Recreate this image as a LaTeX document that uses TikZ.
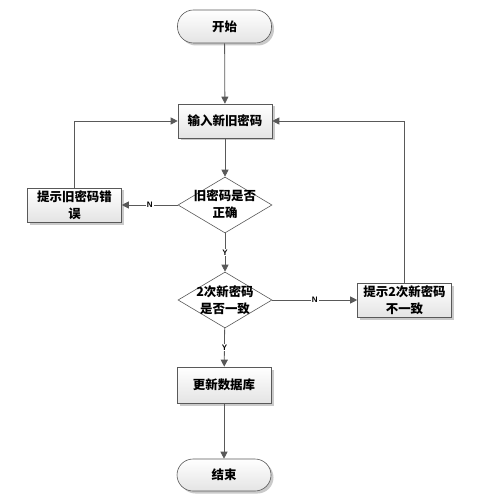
\documentclass[tikz,border=0pt]{standalone}
\usepackage{fontspec}
\newfontfamily\cjk{Noto Sans CJK SC}
\setsansfont{Liberation Sans}
\usetikzlibrary{shapes.geometric,arrows.meta,shadows}
\definecolor{linegray}{HTML}{595959}
\definecolor{boxbot}{HTML}{E4E4E4}
\begin{document}
\begin{tikzpicture}[x=1bp,y=-1bp,
  txt/.style={font=\cjk\bfseries\fontsize{12.5}{17}\selectfont, align=center, text=black},
  procbox/.style={txt, draw=linegray, line width=0.6bp, rectangle, minimum width=94bp, minimum height=34bp, inner sep=1bp,
     top color=white, bottom color=boxbot,
     drop shadow={shadow xshift=2.5bp, shadow yshift=-2.5bp, opacity=0.35, fill=black!60}},
  termbox/.style={procbox, rounded corners=16bp},
  decide/.style={draw=linegray, line width=0.6bp, diamond, fill=white, minimum width=94bp, minimum height=56bp, inner sep=0pt},
  flow/.style={draw=linegray, line width=0.8bp, -{Triangle[length=7bp,width=7bp]}},
  lab/.style={font=\sffamily\bfseries\fontsize{8}{9}\selectfont, fill=white, inner sep=1bp, text=black}
]
\useasboundingbox (0,0) rectangle (498,502);
\node[termbox, minimum height=33bp] (start) at (224.5,26.5) {开始};
\node[procbox] (input) at (225,121) {输入新旧密码};
\node[decide] (d1) at (225,205) {};
\node[txt] (d1t) at (225,204) {旧密码是否\\正确};
\node[procbox] (oldwrong) at (74.5,205) {提示旧密码错\\误};
\node[decide] (d2) at (225,300) {};
\node[txt] (d2t) at (225,300) {2次新密码\\是否一致};
\node[procbox] (newwrong) at (404.5,300) {提示2次新密码\\不一致};
\node[procbox, minimum height=36bp] (update) at (224,385) {更新数据库};
\node[termbox, minimum height=32bp] (finish) at (224,475) {结束};
\coordinate (lc) at (oldwrong.north |- input.west);
\coordinate (rc) at (newwrong.north |- input.east);

\draw[flow] (start) -- (input);
\draw[flow] (input) -- (d1);
\draw[flow] (d1) -- node[lab] (ly1) {Y} (d2);
\draw[flow] (d1) -- node[lab] (ln1) {N} (oldwrong);
\draw[flow] (oldwrong.north) -- (lc) -- (input.west);
\draw[flow] (d2) -- node[lab] (ln2) {N} (newwrong);
\draw[flow] (newwrong.north) -- (rc) -- (input.east);
\draw[flow] (d2) -- node[lab] (ly2) {Y} (update);
\draw[flow] (update) -- (finish);
\end{tikzpicture}
\end{document}
